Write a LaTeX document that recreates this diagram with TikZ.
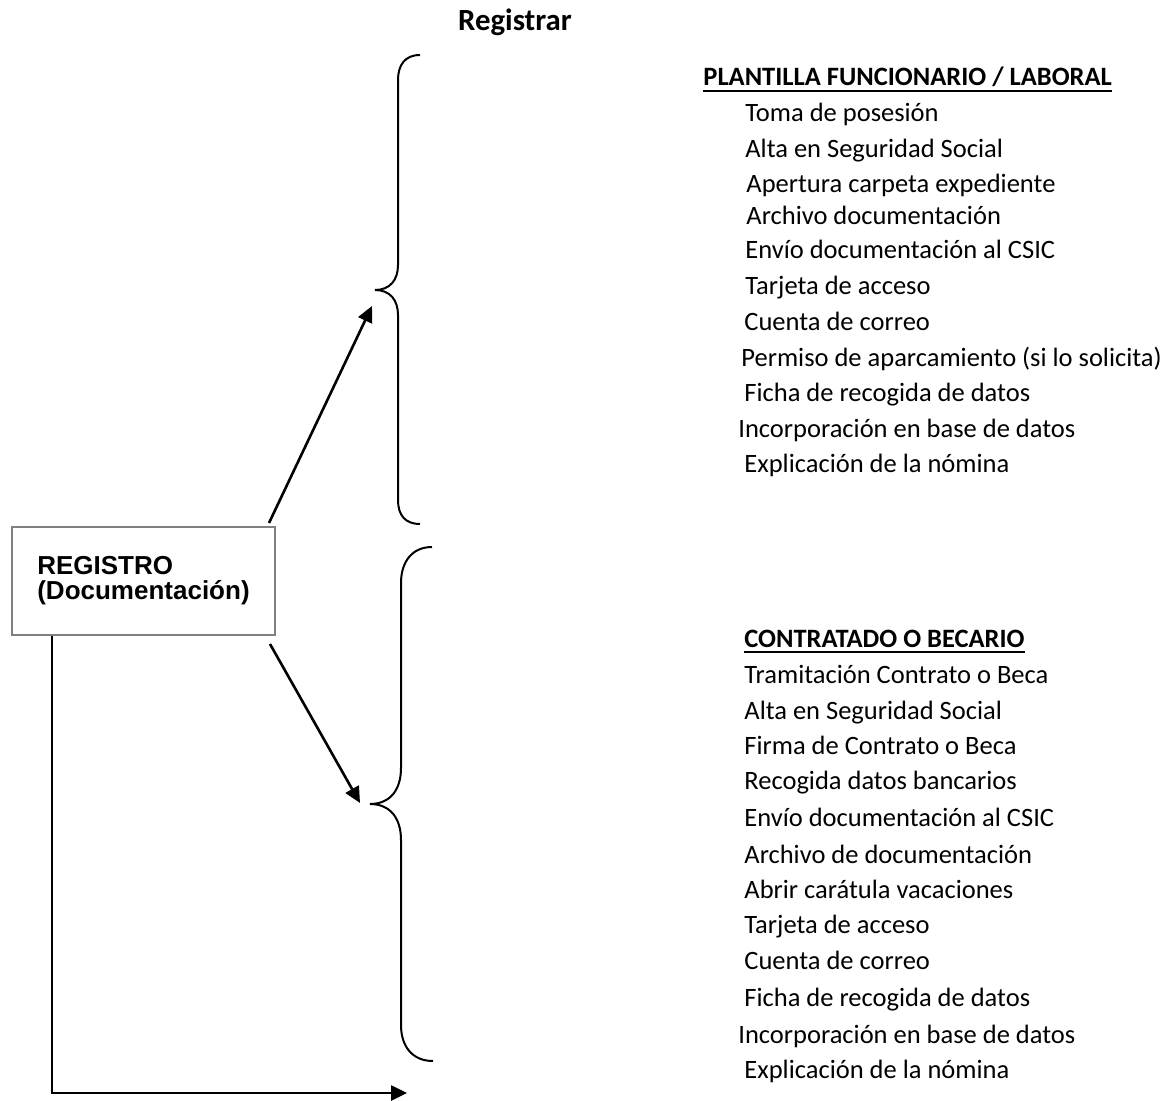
\documentclass[tikz,border=0pt]{standalone}
\usepackage{fontspec}
\setmainfont{Carlito}
\newfontfamily\boxfont{Liberation Sans}
\usepackage{xcolor}
\usepackage{tikz}
\usetikzlibrary{arrows.meta}

\definecolor{boxgray}{RGB}{128,128,128}

\begin{document}
\begin{tikzpicture}[x=0.5pt, y=-0.5pt, >={Triangle[length=8pt,width=7.5pt]},
    item/.style={anchor=base west, inner sep=0pt, font=\fontsize{13.25}{15}\selectfont},
    heading/.style={item, font=\fontsize{13.25}{15}\selectfont\bfseries},
    regbox/.style={draw=boxgray, line width=1pt, minimum width=131.5pt, minimum height=54pt, align=left, font=\boxfont\bfseries\fontsize{13}{12.5}\selectfont},
    link/.style={->, line width=1.3pt},
    bracket/.style={line width=1pt}]
    \useasboundingbox (0,0) rectangle (1168,1101);

    % Title
    \node[font=\fontsize{15.4}{18}\selectfont\bfseries, anchor=base, inner sep=0pt] (title) at (515,31) {Registrar};

    % Registro box
    \node[regbox] (reg) at (143.5,581) {REGISTRO\\(Documentación)};

    % Upper brace
    \coordinate (topTip) at (375,290);
    \draw[bracket] (420,55) .. controls (405,55) and (398,65) .. (398,80) -- (398,265)
        .. controls (398,280) and (390,290) .. (topTip)
        .. controls (390,290) and (398,300) .. (398,315) -- (398,500)
        .. controls (398,515) and (405,524) .. (420,524);

    % Lower brace
    \coordinate (lowTip) at (370,804);
    \draw[bracket] (432,547) .. controls (412,547) and (401,562) .. (401,583) -- (401,768)
        .. controls (401,790) and (390,804) .. (lowTip)
        .. controls (390,804) and (401,818) .. (401,840) -- (401,1025)
        .. controls (401,1046) and (412,1061) .. (433,1061);

    % Arrows from the box
    \coordinate (topEnd) at (372,306);
    \coordinate (lowEnd) at (360,803);
    \coordinate (out) at (407,1093);
    \draw[link] ([xshift=-3.5pt,yshift=1.5pt]reg.north east) -- (topEnd);
    \draw[link] ([xshift=-3pt,yshift=-4pt]reg.south east) -- (lowEnd);
    \draw[link] ([xshift=20.5pt]reg.south west) |- (out);

    % Plantilla funcionario / laboral
    \node[heading] (pHead) at (703,86) {PLANTILLA FUNCIONARIO / LABORAL};
    \draw[line width=0.6pt] ([yshift=-2.5pt]pHead.base west) -- ([yshift=-2.5pt]pHead.base east);
    \node[item] (p1) at (745,122) {Toma de posesión};
    \node[item] (p2) at (745,158) {Alta en Seguridad Social};
    \node[item] (p3) at (746,193) {Apertura carpeta expediente};
    \node[item] (p4) at (746,225) {Archivo documentación};
    \node[item] (p5) at (745,259) {Envío documentación al CSIC};
    \node[item] (p6) at (745,295) {Tarjeta de acceso};
    \node[item] (p7) at (744,331) {Cuenta de correo};
    \node[item] (p8) at (741,367) {Permiso de aparcamiento (si lo solicita)};
    \node[item] (p9) at (744,402) {Ficha de recogida de datos};
    \node[item] (p10) at (738,438) {Incorporación en base de datos};
    \node[item] (p11) at (744,473) {Explicación de la nómina};

    % Contratado o becario
    \node[heading] (cHead) at (744,647) {CONTRATADO O BECARIO};
    \draw[line width=0.6pt] ([yshift=-2.5pt]cHead.base west) -- ([yshift=-2.5pt]cHead.base east);
    \node[item] (c1) at (744,683) {Tramitación Contrato o Beca};
    \node[item] (c2) at (744,719) {Alta en Seguridad Social};
    \node[item] (c3) at (744,754) {Firma de Contrato o Beca};
    \node[item] (c4) at (744,789) {Recogida datos bancarios};
    \node[item] (c5) at (744,826) {Envío documentación al CSIC};
    \node[item] (c6) at (744,863) {Archivo de documentación};
    \node[item] (c7) at (744,898) {Abrir carátula vacaciones};
    \node[item] (c8) at (744,933) {Tarjeta de acceso};
    \node[item] (c9) at (744,969) {Cuenta de correo};
    \node[item] (c10) at (744,1006) {Ficha de recogida de datos};
    \node[item] (c11) at (738,1043) {Incorporación en base de datos};
    \node[item] (c12) at (744,1078) {Explicación de la nómina};
\end{tikzpicture}
\end{document}
